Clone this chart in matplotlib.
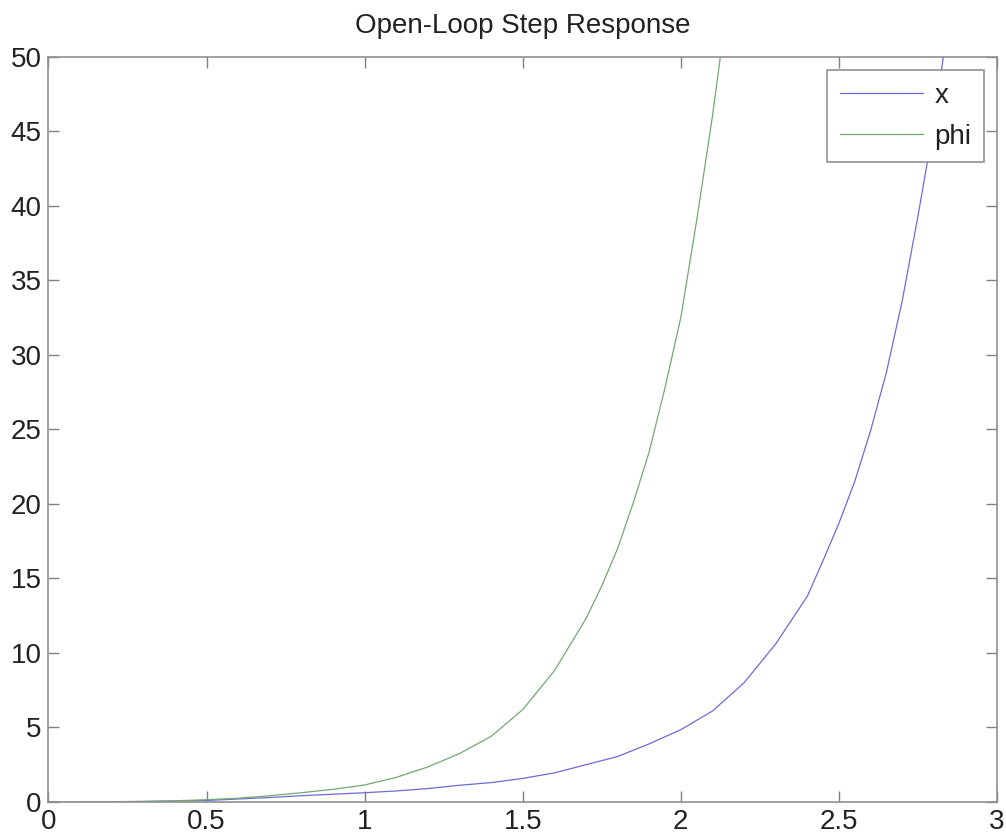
import matplotlib
matplotlib.use("Agg")
import matplotlib.pyplot as plt

# data
t_x = [0.0, 0.1, 0.2, 0.3, 0.4, 0.5, 0.6, 0.7, 0.8, 0.9, 1.0, 1.1, 1.2, 1.3, 1.4, 1.5,
       1.6, 1.7, 1.8, 1.9, 2.0, 2.1, 2.2, 2.3, 2.4, 2.45, 2.5, 2.55, 2.6, 2.65, 2.7,
       2.75, 2.8, 2.85, 2.9]
x_vals = [0.0, 0.005, 0.015, 0.03, 0.06, 0.1, 0.2, 0.3, 0.42, 0.52, 0.62, 0.74, 0.9, 1.12,
          1.3, 1.58, 1.95, 2.5, 3.05, 3.9, 4.85, 6.1, 8.0, 10.6, 13.8, 16.2, 18.7, 21.5,
          24.9, 28.8, 33.6, 39.3, 45.4, 53.0, 60.0]
t_phi = [0.0, 0.1, 0.2, 0.3, 0.4, 0.5, 0.6, 0.7, 0.8, 0.9, 1.0, 1.1, 1.2, 1.3, 1.4, 1.5,
         1.6, 1.7, 1.75, 1.8, 1.85, 1.9, 1.95, 2.0, 2.05, 2.1, 2.15, 2.2]
phi_vals = [0.0, 0.005, 0.02, 0.04, 0.08, 0.15, 0.25, 0.42, 0.62, 0.85, 1.14, 1.65, 2.35,
            3.25, 4.4, 6.2, 8.8, 12.3, 14.5, 17.0, 20.1, 23.5, 27.8, 32.5, 39.0, 46.0,
            54.0, 64.0]
series_labels = ["x", "phi"]
title = "Open-Loop Step Response"
xticks = [0, 0.5, 1, 1.5, 2, 2.5, 3]
xticklabels = ["0", "0.5", "1", "1.5", "2", "2.5", "3"]
yticks = [0, 5, 10, 15, 20, 25, 30, 35, 40, 45, 50]

plt.rcParams['font.family'] = ['Liberation Sans', 'DejaVu Sans']

fig = plt.figure(figsize=(10.06, 8.38), dpi=100)
ax = fig.add_axes([0.0482, 0.043, 0.9428, 0.889])

ax.plot(t_x, x_vals, color=(0.42, 0.42, 0.86), lw=0.9, label=series_labels[0])
ax.plot(t_phi, phi_vals, color=(0.45, 0.66, 0.45), lw=0.9, label=series_labels[1])

ax.set_xlim(0, 3)
ax.set_ylim(0, 50)
ax.set_xticks(xticks)
ax.set_xticklabels(xticklabels)
ax.set_yticks(yticks)
ax.tick_params(direction='in', length=8, width=1, color='#808080',
               labelsize=20, labelcolor='#222222', top=True, right=True, pad=5)
for s in ax.spines.values():
    s.set_color('#909090')
    s.set_linewidth(1.2)

ax.set_title(title, fontsize=20, color='#222222', pad=17)

leg = ax.legend(loc='upper right', fontsize=20, fancybox=False, framealpha=1,
                edgecolor='#909090', borderaxespad=0.47, handlelength=3.0,
                handletextpad=0.4, labelspacing=0.55, borderpad=0.45)
leg.get_frame().set_linewidth(1.2)
for txt in leg.get_texts():
    txt.set_color('#222222')

fig.savefig("out.png", dpi=100)
